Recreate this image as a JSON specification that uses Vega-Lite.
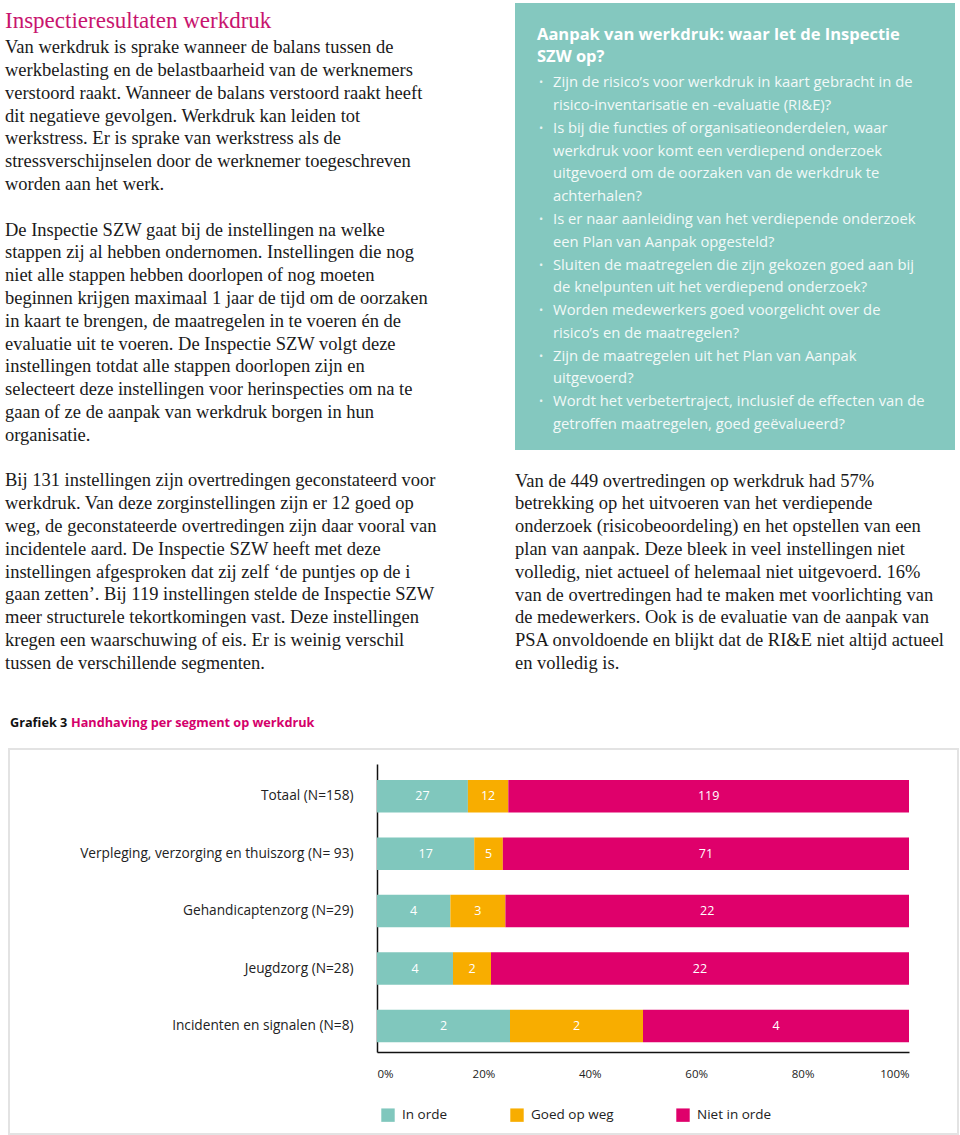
{
  "$schema": "https://vega.github.io/schema/vega-lite/v6.json",
  "padding": {"left": 0, "top": 3, "right": 0, "bottom": 0},
  "background": "white",
  "config": {"view": {"stroke": null}, "font": "Open Sans"},
  "spacing": 0,
  "vconcat": [
    {
      "spacing": 15,
      "hconcat": [
        {
          "width": 500,
          "height": 680,
          "layer": [
            {
              "data": {"values": [{"line": 0, "text": "Inspectieresultaten werkdruk"}]},
              "mark": {"type": "text", "align": "left", "baseline": "alphabetic", "font": "Liberation Serif", "fontSize": 23, "color": "#c8146e", "dx": 5, "dy": -2},
              "encoding": {
                "x": {"value": 0},
                "y": {"field": "line", "type": "quantitative", "scale": {"domain": [-1.2061, 28.6185], "reverse": true, "nice": false, "zero": false}, "axis": null},
                "text": {"field": "text"}
              }
            },
            {
              "data": {"values": [
                {"line": 1, "text": "Van werkdruk is sprake wanneer de balans tussen de"},
                {"line": 2, "text": "werkbelasting en de belastbaarheid van de werknemers"},
                {"line": 3, "text": "verstoord raakt. Wanneer de balans verstoord raakt heeft"},
                {"line": 4, "text": "dit negatieve gevolgen. Werkdruk kan leiden tot"},
                {"line": 5, "text": "werkstress. Er is sprake van werkstress als de"},
                {"line": 6, "text": "stressverschijnselen door de werknemer toegeschreven"},
                {"line": 7, "text": "worden aan het werk."},
                {"line": 9, "text": "De Inspectie SZW gaat bij de instellingen na welke"},
                {"line": 10, "text": "stappen zij al hebben ondernomen. Instellingen die nog"},
                {"line": 11, "text": "niet alle stappen hebben doorlopen of nog moeten"},
                {"line": 12, "text": "beginnen krijgen maximaal 1 jaar de tijd om de oorzaken"},
                {"line": 13, "text": "in kaart te brengen, de maatregelen in te voeren én de"},
                {"line": 14, "text": "evaluatie uit te voeren. De Inspectie SZW volgt deze"},
                {"line": 15, "text": "instellingen totdat alle stappen doorlopen zijn en"},
                {"line": 16, "text": "selecteert deze instellingen voor herinspecties om na te"},
                {"line": 17, "text": "gaan of ze de aanpak van werkdruk borgen in hun"},
                {"line": 18, "text": "organisatie."},
                {"line": 20, "text": "Bij 131 instellingen zijn overtredingen geconstateerd voor"},
                {"line": 21, "text": "werkdruk. Van deze zorginstellingen zijn er 12 goed op"},
                {"line": 22, "text": "weg, de geconstateerde overtredingen zijn daar vooral van"},
                {"line": 23, "text": "incidentele aard. De Inspectie SZW heeft met deze"},
                {"line": 24, "text": "instellingen afgesproken dat zij zelf ‘de puntjes op de i"},
                {"line": 25, "text": "gaan zetten’. Bij 119 instellingen stelde de Inspectie SZW"},
                {"line": 26, "text": "meer structurele tekortkomingen vast. Deze instellingen"},
                {"line": 27, "text": "kregen een waarschuwing of eis. Er is weinig verschil"},
                {"line": 28, "text": "tussen de verschillende segmenten."}
              ]},
              "mark": {"type": "text", "align": "left", "baseline": "alphabetic", "font": "Liberation Serif", "fontSize": 18.5, "color": "#1a1a1a", "dx": 5},
              "encoding": {
                "x": {"value": 0},
                "y": {"field": "line", "type": "quantitative", "axis": null},
                "text": {"field": "text"}
              }
            }
          ]
        },
        {
          "spacing": 0,
          "vconcat": [
            {
              "width": 440,
              "height": 447,
              "view": {"fill": "#84c8bf", "stroke": null},
              "data": {"values": [
                {"line": 0, "kind": "head", "first": false, "text": "Aanpak van werkdruk: waar let de Inspectie"},
                {"line": 1, "kind": "head", "first": false, "text": "SZW op?"},
                {"line": 2, "kind": "item", "first": true, "text": "Zijn de risico’s voor werkdruk in kaart gebracht in de"},
                {"line": 3, "kind": "item", "first": false, "text": "risico-inventarisatie en -evaluatie (RI&E)?"},
                {"line": 4, "kind": "item", "first": true, "text": "Is bij die functies of organisatieonderdelen, waar"},
                {"line": 5, "kind": "item", "first": false, "text": "werkdruk voor komt een verdiepend onderzoek"},
                {"line": 6, "kind": "item", "first": false, "text": "uitgevoerd om de oorzaken van de werkdruk te"},
                {"line": 7, "kind": "item", "first": false, "text": "achterhalen?"},
                {"line": 8, "kind": "item", "first": true, "text": "Is er naar aanleiding van het verdiepende onderzoek"},
                {"line": 9, "kind": "item", "first": false, "text": "een Plan van Aanpak opgesteld?"},
                {"line": 10, "kind": "item", "first": true, "text": "Sluiten de maatregelen die zijn gekozen goed aan bij"},
                {"line": 11, "kind": "item", "first": false, "text": "de knelpunten uit het verdiepend onderzoek?"},
                {"line": 12, "kind": "item", "first": true, "text": "Worden medewerkers goed voorgelicht over de"},
                {"line": 13, "kind": "item", "first": false, "text": "risico’s en de maatregelen?"},
                {"line": 14, "kind": "item", "first": true, "text": "Zijn de maatregelen uit het Plan van Aanpak"},
                {"line": 15, "kind": "item", "first": false, "text": "uitgevoerd?"},
                {"line": 16, "kind": "item", "first": true, "text": "Wordt het verbetertraject, inclusief de effecten van de"},
                {"line": 17, "kind": "item", "first": false, "text": "getroffen maatregelen, goed geëvalueerd?"}
              ]},
              "encoding": {
                "x": {"value": 0},
                "y": {"field": "line", "type": "quantitative", "scale": {"domain": [-1.7428, 17.8797], "reverse": true, "nice": false, "zero": false}, "axis": null}
              },
              "layer": [
                {
                  "transform": [{"filter": "datum.kind === 'head'"}],
                  "mark": {"type": "text", "align": "left", "baseline": "alphabetic", "font": "Open Sans", "fontWeight": "bold", "fontSize": 16.5, "color": "#ffffff", "dx": 22, "dy": -3},
                  "encoding": {"text": {"field": "text"}}
                },
                {
                  "transform": [{"filter": "datum.kind === 'item'"}],
                  "mark": {"type": "text", "align": "left", "baseline": "alphabetic", "font": "Open Sans", "fontSize": 14.8, "color": "#f2f9f8", "dx": 38, "dy": -1},
                  "encoding": {"text": {"field": "text"}}
                },
                {
                  "transform": [{"filter": "datum.first"}],
                  "mark": {"type": "text", "align": "left", "baseline": "alphabetic", "font": "Open Sans", "fontSize": 11, "color": "#e8f4f2", "dx": 24, "dy": -2, "text": "•"},
                  "encoding": {}
                }
              ]
            },
            {
              "width": 440,
              "height": 233,
              "data": {"values": [
                {"line": 20, "text": "Van de 449 overtredingen op werkdruk had 57%"},
                {"line": 21, "text": "betrekking op het uitvoeren van het verdiepende"},
                {"line": 22, "text": "onderzoek (risicobeoordeling) en het opstellen van een"},
                {"line": 23, "text": "plan van aanpak. Deze bleek in veel instellingen niet"},
                {"line": 24, "text": "volledig, niet actueel of helemaal niet uitgevoerd. 16%"},
                {"line": 25, "text": "van de overtredingen had te maken met voorlichting van"},
                {"line": 26, "text": "de medewerkers. Ook is de evaluatie van de aanpak van"},
                {"line": 27, "text": "PSA onvoldoende en blijkt dat de RI&E niet altijd actueel"},
                {"line": 28, "text": "en volledig is."}
              ]},
              "mark": {"type": "text", "align": "left", "baseline": "alphabetic", "font": "Liberation Serif", "fontSize": 18.5, "color": "#1a1a1a"},
              "encoding": {
                "x": {"value": 0},
                "y": {"field": "line", "type": "quantitative", "scale": {"domain": [18.3991, 28.6184], "reverse": true, "nice": false, "zero": false}, "axis": null},
                "text": {"field": "text"}
              }
            }
          ]
        }
      ]
    },
    {
      "width": 949,
      "height": 65,
      "data": {"values": [{"label": "Grafiek 3", "title": "Handhaving per segment op werkdruk"}]},
      "layer": [
        {
          "mark": {"type": "text", "align": "left", "baseline": "alphabetic", "font": "Open Sans", "fontWeight": "bold", "fontSize": 12.7, "color": "#111111", "dx": 10, "dy": 11.8},
          "encoding": {"x": {"value": 0}, "text": {"field": "label"}}
        },
        {
          "mark": {"type": "text", "align": "left", "baseline": "alphabetic", "font": "Open Sans", "fontWeight": "bold", "fontSize": 12.7, "color": "#d4006b", "dx": 71, "dy": 11.8},
          "encoding": {"x": {"value": 0}, "text": {"field": "title"}}
        }
      ]
    },
    {
      "spacing": 7,
      "hconcat": [
        {
          "width": 1,
          "height": 385,
          "data": {"values": []},
          "mark": "point",
          "encoding": {}
        },
        {
          "width": 949,
          "height": 385,
          "view": {"stroke": "#e3e3e3", "strokeWidth": 2},
          "data": {"values": [
            {"segment": "Totaal (N=158)", "status": "In orde", "nr": 1, "n": 27},
            {"segment": "Totaal (N=158)", "status": "Goed op weg", "nr": 2, "n": 12},
            {"segment": "Totaal (N=158)", "status": "Niet in orde", "nr": 3, "n": 119},
            {"segment": "Verpleging, verzorging en thuiszorg (N= 93)", "status": "In orde", "nr": 1, "n": 17},
            {"segment": "Verpleging, verzorging en thuiszorg (N= 93)", "status": "Goed op weg", "nr": 2, "n": 5},
            {"segment": "Verpleging, verzorging en thuiszorg (N= 93)", "status": "Niet in orde", "nr": 3, "n": 71},
            {"segment": "Gehandicaptenzorg (N=29)", "status": "In orde", "nr": 1, "n": 4},
            {"segment": "Gehandicaptenzorg (N=29)", "status": "Goed op weg", "nr": 2, "n": 3},
            {"segment": "Gehandicaptenzorg (N=29)", "status": "Niet in orde", "nr": 3, "n": 22},
            {"segment": "Jeugdzorg (N=28)", "status": "In orde", "nr": 1, "n": 4},
            {"segment": "Jeugdzorg (N=28)", "status": "Goed op weg", "nr": 2, "n": 2},
            {"segment": "Jeugdzorg (N=28)", "status": "Niet in orde", "nr": 3, "n": 22},
            {"segment": "Incidenten en signalen (N=8)", "status": "In orde", "nr": 1, "n": 2},
            {"segment": "Incidenten en signalen (N=8)", "status": "Goed op weg", "nr": 2, "n": 2},
            {"segment": "Incidenten en signalen (N=8)", "status": "Niet in orde", "nr": 3, "n": 4}
          ]},
          "encoding": {
            "y": {
              "field": "segment", "type": "nominal",
              "sort": ["Totaal (N=158)", "Verpleging, verzorging en thuiszorg (N= 93)", "Gehandicaptenzorg (N=29)", "Jeugdzorg (N=28)", "Incidenten en signalen (N=8)"],
              "scale": {"range": [15, 303], "paddingInner": 0.434, "paddingOuter": 0.226, "align": 0.62},
              "axis": {"orient": "left", "offset": -368, "title": null, "domain": true, "domainColor": "#111111", "domainWidth": 1.5, "ticks": false, "grid": false, "labelPadding": 24, "labelFont": "Open Sans", "labelFontSize": 13.7, "labelColor": "#222222", "labelLimit": 400}
            }
          },
          "layer": [
            {
              "mark": {"type": "bar"},
              "encoding": {
                "x": {
                  "field": "n", "type": "quantitative", "stack": "normalize",
                  "scale": {"domain": [0, 1], "range": [368, 900], "nice": false, "zero": true},
                  "axis": {"orient": "bottom", "offset": -82, "title": null, "values": [0, 0.2, 0.4, 0.6, 0.8, 1], "format": ".0%", "domain": true, "domainColor": "#111111", "domainWidth": 1.5, "ticks": false, "grid": false, "labelPadding": 22, "labelBaseline": "middle", "labelFont": "Open Sans", "labelFontSize": 11.5, "labelColor": "#222222"}
                },
                "color": {
                  "field": "status", "type": "nominal",
                  "scale": {"domain": ["In orde", "Goed op weg", "Niet in orde"], "range": ["#80c7bd", "#f8ad00", "#df006b"]},
                  "legend": {"orient": "none", "legendX": 381, "legendY": 1105, "direction": "horizontal", "title": null, "symbolType": "square", "symbolSize": 180, "symbolStrokeWidth": 0, "symbolOpacity": 1, "labelFont": "Open Sans", "labelFontSize": 13.5, "labelColor": "#222222", "labelOffset": 7, "columnPadding": 62}
                },
                "order": {"field": "nr", "type": "quantitative"}
              }
            },
            {
              "mark": {"type": "text", "font": "Open Sans", "fontSize": 12.5, "color": "#ffffff", "baseline": "middle"},
              "encoding": {
                "x": {
                  "field": "n", "type": "quantitative", "stack": "normalize", "bandPosition": 0.5,
                  "scale": {"domain": [0, 1], "range": [368, 900], "nice": false, "zero": true},
                  "axis": {"orient": "bottom", "offset": -82, "title": null, "values": [0, 0.2, 0.4, 0.6, 0.8, 1], "format": ".0%", "domain": true, "domainColor": "#111111", "domainWidth": 1.5, "ticks": false, "grid": false, "labelPadding": 22, "labelBaseline": "middle", "labelFont": "Open Sans", "labelFontSize": 11.5, "labelColor": "#222222"}
                },
                "detail": {"field": "status", "type": "nominal"},
                "order": {"field": "nr", "type": "quantitative"},
                "text": {"field": "n", "type": "quantitative"}
              }
            }
          ]
        }
      ]
    }
  ]
}
